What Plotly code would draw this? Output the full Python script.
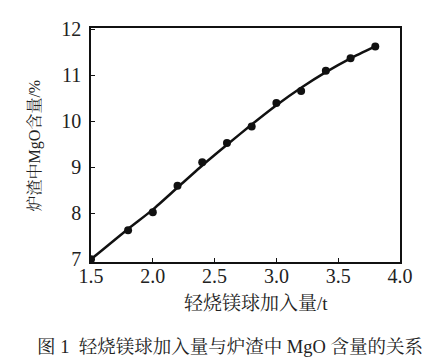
import plotly.graph_objects as go

# measured points
x_pts = [1.5, 1.8, 2.0, 2.2, 2.4, 2.6, 2.8, 3.0, 3.2, 3.4, 3.6, 3.8]
y_pts = [7.0, 7.63, 8.02, 8.60, 9.11, 9.53, 9.89, 10.40, 10.66, 11.10, 11.37, 11.63]

# fitted curve
x_fit = [1.5, 1.8, 2.0, 2.2, 2.4, 2.6, 2.8, 3.0, 3.2, 3.4, 3.6, 3.8]
y_fit = [7.0, 7.66, 8.08, 8.56, 9.04, 9.49, 9.93, 10.35, 10.73, 11.07, 11.37, 11.63]

x_ticks = [1.5, 2.0, 2.5, 3.0, 3.5, 4.0]
x_tick_text = ["1.5", "2.0", "2.5", "3.0", "3.5", "4.0"]
y_ticks = [7, 8, 9, 10, 11, 12]

x_title = "轻烧镁球加入量/t"
y_title = "炉渣中MgO含量/%"
caption = "图 1  轻烧镁球加入量与炉渣中 MgO 含量的关系"

serif = "Liberation Serif, Noto Serif CJK SC, Noto Sans CJK SC, serif"

fig = go.Figure()
fig.add_trace(go.Scatter(x=x_fit, y=y_fit, mode="lines",
                         line=dict(color="#111", width=2.5, shape="spline", smoothing=0.6),
                         hoverinfo="skip", showlegend=False))
fig.add_trace(go.Scatter(x=x_pts, y=y_pts, mode="markers",
                         marker=dict(color="#111", size=8),
                         showlegend=False))

axis_common = dict(showline=True, linecolor="#111", linewidth=1.5, mirror=True,
                   ticks="inside", ticklen=4, tickwidth=1.2, tickcolor="#111",
                   showgrid=False, zeroline=False,
                   tickfont=dict(family=serif, size=20, color="#222"))

fig.update_xaxes(range=[1.5, 4.0], tickvals=x_ticks, ticktext=x_tick_text,
                 ticklabelstandoff=-5, **axis_common)
fig.update_yaxes(range=[6.94, 12.03], tickvals=y_ticks, ticklabelstandoff=4, **axis_common)

fig.add_annotation(text=x_title, xref="paper", yref="paper", x=0.534, y=-0.176,
                   showarrow=False, xanchor="center", yanchor="middle",
                   font=dict(family=serif, size=19, color="#222"))
fig.add_annotation(text=y_title, xref="paper", yref="paper", x=-0.18, y=0.5,
                   showarrow=False, textangle=-90, xanchor="center", yanchor="middle",
                   font=dict(family=serif, size=16, color="#222"))
fig.add_annotation(text=caption, xref="paper", yref="paper", x=0.45, y=-0.365,
                   showarrow=False, xanchor="center", yanchor="middle",
                   font=dict(family=serif, size=18.5, color="#222"))

fig.update_layout(width=443, height=359, margin=dict(l=83, r=51, t=10, b=105),
                  paper_bgcolor="white", plot_bgcolor="white")

fig.write_html("out.html")
